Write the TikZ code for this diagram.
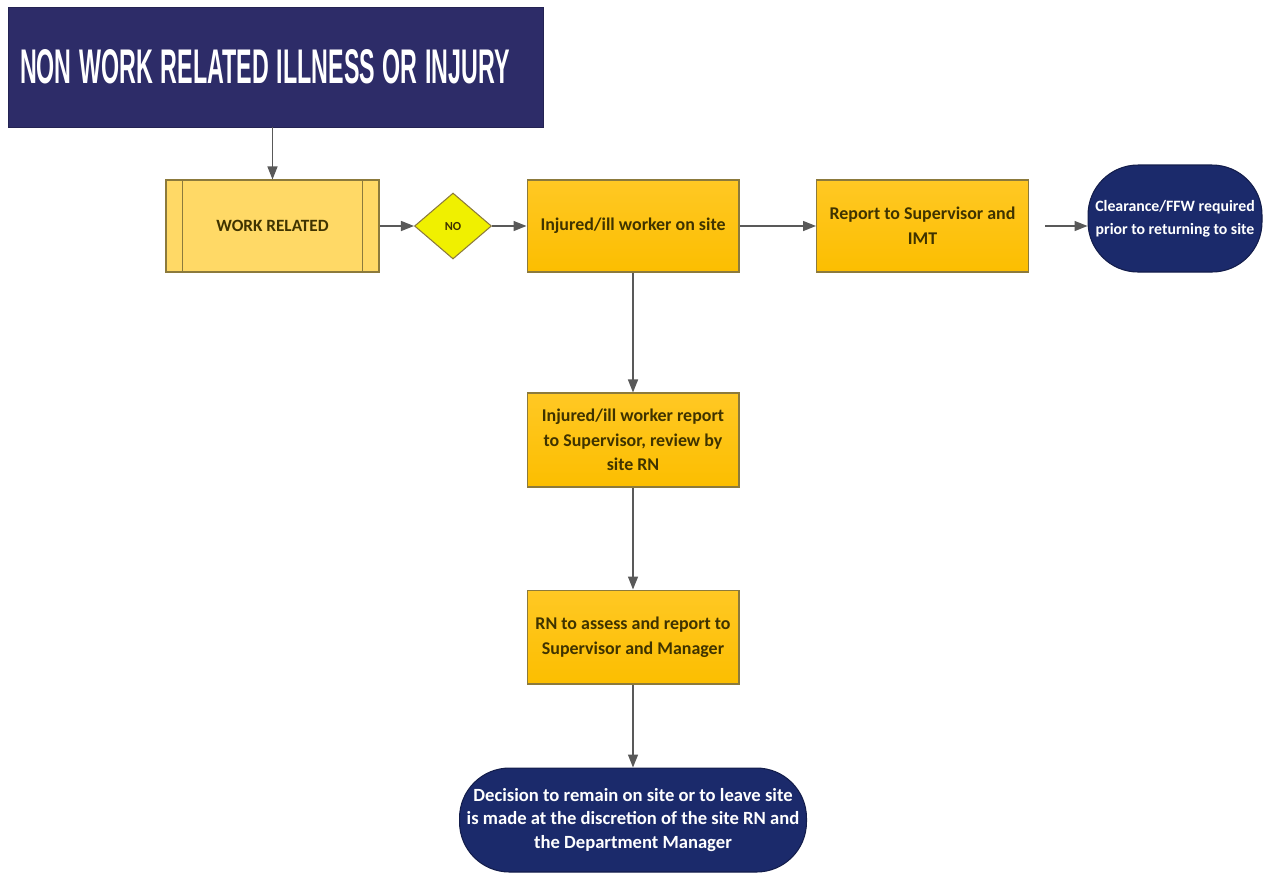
\documentclass[tikz,border=0pt]{standalone}
\usepackage{fontspec}
\setmainfont{Carlito}
\newfontfamily\titlefont{Liberation Sans}
\usetikzlibrary{positioning}
\usetikzlibrary{calc}
\usetikzlibrary{shapes.geometric}
\usetikzlibrary{arrows.meta}

\definecolor{titlenavy}{HTML}{2D2C68}
\definecolor{termnavy}{HTML}{1B2A6B}
\definecolor{boxorange}{HTML}{FCBE00}
\definecolor{boxlight}{HTML}{FFC824}
\definecolor{wrfill}{HTML}{FFD966}
\definecolor{diafill}{HTML}{F0F000}
\definecolor{boxedge}{HTML}{8C7A3C}
\definecolor{linegray}{HTML}{595959}
\definecolor{boxtext}{HTML}{3F3300}

\tikzset{
    titlebox/.style={draw=titlenavy!80!black, fill=titlenavy, text=white,
        minimum width=10.7cm, minimum height=2.4cm, inner xsep=.24cm,
        text width=10.22cm, align=left},
    procbox/.style={draw=boxedge, line width=.6pt, top color=boxlight,
        bottom color=boxorange, text=boxtext, minimum width=4.24cm,
        minimum height=1.84cm, align=center, inner sep=0pt,
        font=\fontsize{10.2}{14}\selectfont\bfseries},
    subbox/.style={draw=boxedge, line width=.6pt, fill=wrfill, text=boxtext,
        minimum width=4.26cm, minimum height=1.84cm, align=center,
        font=\fontsize{9.8}{14}\selectfont\bfseries},
    decisionbox/.style={diamond, draw=boxedge, line width=.6pt, fill=diafill,
        text=boxtext, minimum width=1.54cm, minimum height=1.32cm, inner sep=0pt,
        font=\fontsize{7}{8}\selectfont\bfseries},
    termbox/.style={draw=termnavy!70!black, line width=.6pt, fill=termnavy,
        text=white, align=center, inner sep=0pt,
        font=\fontsize{9}{13}\selectfont\bfseries},
    flow/.style={-{Triangle[length=2.6mm, width=2mm]}, draw=linegray,
        line width=.8pt},
}

\begin{document}
\begin{tikzpicture}[x=.02cm, y=-.02cm]
    \useasboundingbox (0, 0) rectangle (1266, 877);

    \node[titlebox] (title) at (275.5, 67)
        {\raisebox{-.05cm}{\resizebox{9.8cm}{.68cm}{\titlefont\bfseries NON WORK RELATED ILLNESS OR INJURY}}};

    \node[subbox] (wr) at (272.5, 226) {WORK RELATED};
    \draw[boxedge, line width=.6pt] ($(wr.north west)+(17, 0)$) -- ($(wr.south west)+(17, 0)$);
    \draw[boxedge, line width=.6pt] ($(wr.north east)+(-17, 0)$) -- ($(wr.south east)+(-17, 0)$);

    \node[decisionbox] (no) at (453, 226) {NO};
    \node[procbox] (onsite) at (633, 226) {Injured/ill worker on site};
    \node[procbox] (report) at (922.5, 226) {Report to Supervisor and\\IMT};
    \node[termbox, minimum width=3.48cm, minimum height=2.14cm,
        rounded corners=1cm] (clear) at (1175, 218.5)
        {Clearance/FFW required\\prior to returning to site};

    \node[procbox, minimum height=1.88cm] (review) at (633, 440)
        {Injured/ill worker report\\to Supervisor, review by\\site RN};
    \node[procbox, minimum height=1.88cm] (assess) at (633, 637)
        {RN to assess and report to\\Supervisor and Manager};
    \node[termbox, minimum width=6.94cm, minimum height=2.08cm,
        rounded corners=1cm, font=\fontsize{10.6}{13.2}\selectfont\bfseries]
        (decide) at (633, 820)
        {Decision to remain on site or to leave site\\is made at the discretion of the site RN and\\the Department Manager};

    % connectors
    \draw[flow] (title.south -| wr.north) -- (wr.north);
    \draw[flow] (wr.east) -- (no.west);
    \draw[flow] (no.east) -- (onsite.west);
    \draw[flow] (onsite.east) -- (report.west);
    \draw[flow, shorten <=.32cm] (report.east) -- (report.east -| clear.west);
    \draw[flow] (onsite.south) -- (review.north);
    \draw[flow] (review.south) -- (assess.north);
    \draw[flow] (assess.south) -- (decide.north);
\end{tikzpicture}
\end{document}
